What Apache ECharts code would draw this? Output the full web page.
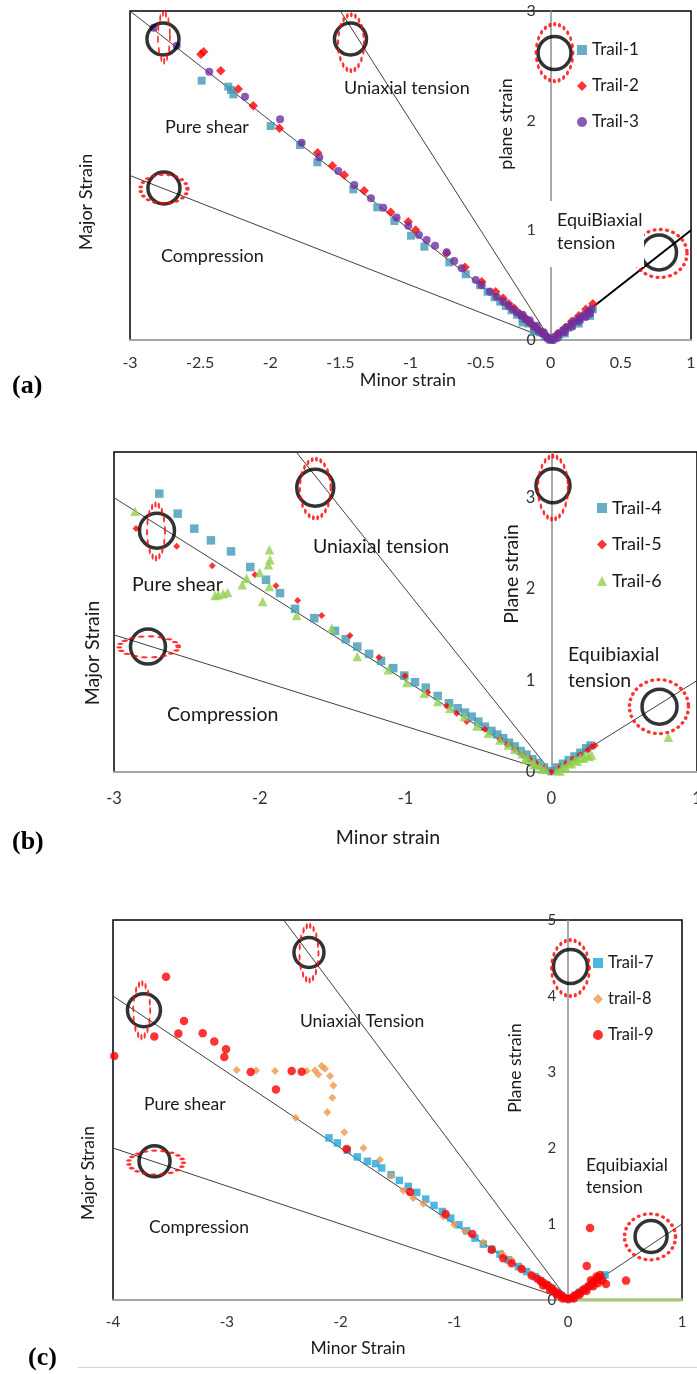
<!DOCTYPE html>
<html>
<head>
<meta charset="utf-8">
<script src="https://cdn.jsdelivr.net/npm/echarts/dist/echarts.min.js"></script>
<style>
  html, body { margin: 0; padding: 0; background: #fff; }
  #chart { width: 697px; height: 1374px; }
</style>
</head>
<body>
<div id="chart"></div>
<script>
// ---- panel (a) ----
const trail1 = [
  [-2.489, 2.365], [-2.299, 2.31], [-2.28, 2.28], [-2.263, 2.24], [-1.997, 1.951], [-1.788, 1.778],
  [-1.664, 1.62], [-1.408, 1.374], [-1.237, 1.21], [-1.115, 1.085], [-0.996, 0.951], [-0.901, 0.851],
  [-0.723, 0.708], [-0.606, 0.6], [-0.504, 0.5], [-0.45, 0.44], [-0.4, 0.39], [-0.36, 0.35],
  [-0.32, 0.31], [-0.28, 0.27], [-0.24, 0.23], [-0.2, 0.19], [-0.16, 0.15], [-0.12, 0.11],
  [-0.08, 0.07], [-0.04, 0.03], [0, 0], [0.03, 0.02], [0.06, 0.05], [0.09, 0.08], [0.12, 0.11],
  [0.15, 0.13], [0.18, 0.16], [0.21, 0.19], [0.24, 0.22], [0.27, 0.25], [0.3, 0.28],
  [-0.2, 0.16], [-0.12, 0.08], [0.1, 0.06], [0.2, 0.15], [0.28, 0.22]
];
const trail2 = [
  [-2.494, 2.605], [-2.475, 2.629], [-2.353, 2.456], [-2.228, 2.289], [-2.121, 2.136], [-1.935, 1.93],
  [-1.662, 1.708], [-1.557, 1.589], [-1.472, 1.505], [-1.33, 1.362], [-1.141, 1.164], [-1.016, 1.079],
  [-0.963, 1.003], [-0.742, 0.79], [-0.611, 0.663], [-0.492, 0.532], [-0.393, 0.44], [-0.34, 0.38],
  [-0.3, 0.33], [-0.26, 0.29], [-0.22, 0.24], [-0.18, 0.2], [-0.15, 0.16], [-0.12, 0.13],
  [-0.08, 0.09], [-0.04, 0.05], [0, 0.01], [0.05, 0.06], [0.1, 0.11], [0.15, 0.17], [0.2, 0.22],
  [0.25, 0.28], [0.3, 0.33]
];
const trail3 = [
  [-2.831, 2.848], [-2.667, 2.684], [-2.435, 2.447], [-2.18, 2.219], [-1.93, 2.012], [-1.776, 1.799],
  [-1.65, 1.666], [-1.515, 1.541], [-1.401, 1.413], [-1.282, 1.292], [-1.194, 1.207], [-1.099, 1.116],
  [-1.016, 1.042], [-0.94, 0.957], [-0.885, 0.912], [-0.825, 0.86], [-0.742, 0.8], [-0.688, 0.72],
  [-0.635, 0.654], [-0.535, 0.547], [-0.492, 0.5], [-0.433, 0.44], [-0.385, 0.395], [-0.338, 0.349],
  [-0.3, 0.31], [-0.27, 0.28], [-0.24, 0.25], [-0.21, 0.22], [-0.18, 0.19], [-0.15, 0.16],
  [-0.12, 0.12], [-0.09, 0.09], [-0.06, 0.06], [-0.03, 0.03], [0, 0.005], [0.03, 0.03], [0.06, 0.06],
  [0.09, 0.09], [0.12, 0.12], [0.15, 0.15], [0.18, 0.18], [0.21, 0.2], [0.24, 0.23], [0.27, 0.26],
  [0.29, 0.28], [-0.2, 0.23], [-0.15, 0.18], [-0.1, 0.13], [-0.05, 0.07], [-0.02, 0.01], [0.02, 0.0],
  [0.05, 0.02], [0.1, 0.07], [0.15, 0.12], [0.2, 0.17], [0.25, 0.21], [0.28, 0.24]
];

// ---- panel (b) ----
const trail4 = [
  [-2.689, 3.045], [-2.563, 2.826], [-2.449, 2.662], [-2.335, 2.534], [-2.197, 2.413], [-2.065, 2.242],
  [-1.957, 2.103], [-1.861, 1.957], [-1.758, 1.785], [-1.626, 1.683], [-1.484, 1.544], [-1.41, 1.453],
  [-1.331, 1.372], [-1.25, 1.292], [-1.168, 1.216], [-1.084, 1.136], [-1.008, 1.055], [-0.935, 0.982],
  [-0.861, 0.923], [-0.779, 0.832], [-0.702, 0.752], [-0.642, 0.697], [-0.592, 0.65], [-0.546, 0.606],
  [-0.501, 0.551], [-0.455, 0.496], [-0.41, 0.45], [-0.37, 0.41], [-0.33, 0.37], [-0.29, 0.32],
  [-0.25, 0.28], [-0.21, 0.23], [-0.17, 0.19], [-0.13, 0.14], [-0.09, 0.1], [-0.05, 0.05], [0, 0.01],
  [0.04, 0.05], [0.08, 0.09], [0.12, 0.13], [0.16, 0.17], [0.2, 0.21], [0.24, 0.26], [0.27, 0.29]
];
const trail5 = [
  [-2.849, 2.662], [-2.57, 2.468], [-2.326, 2.256], [-2.033, 2.158], [-1.889, 2.037], [-1.74, 1.876],
  [-1.575, 1.712], [-1.381, 1.493], [-1.182, 1.256], [-1.003, 1.051], [-0.848, 0.869], [-0.717, 0.723],
  [-0.649, 0.643], [-0.58, 0.551], [-0.455, 0.468], [-0.352, 0.358], [-0.3, 0.3], [-0.25, 0.25],
  [-0.2, 0.19], [-0.15, 0.14], [-0.1, 0.09], [-0.05, 0.04], [0, 0], [0.05, 0.04], [0.1, 0.09],
  [0.15, 0.14], [0.2, 0.19], [0.25, 0.24], [0.28, 0.28], [0.3, 0.29]
];
const trail6 = [
  [-2.856, 2.851], [-2.307, 1.93], [-2.284, 1.939], [-2.25, 1.95], [-2.22, 1.964], [-2.12, 2.048],
  [-2.09, 2.12], [-2.0, 2.183], [-1.98, 1.865], [-1.941, 2.267], [-1.93, 2.322], [-1.934, 2.432],
  [-1.934, 2.03], [-1.747, 1.712], [-1.506, 1.573], [-1.331, 1.263], [-1.118, 1.117], [-0.992, 0.978],
  [-0.871, 0.862], [-0.779, 0.77], [-0.695, 0.697], [-0.597, 0.606], [-0.511, 0.504], [-0.432, 0.424],
  [-0.352, 0.35], [-0.295, 0.296], [-0.25, 0.25], [-0.2, 0.2], [-0.16, 0.15], [-0.12, 0.11],
  [-0.08, 0.07], [-0.04, 0.03], [0, -0.01], [0.04, 0.02], [0.08, 0.06], [0.12, 0.1], [0.16, 0.13],
  [0.2, 0.16], [0.24, 0.18], [0.277, 0.186], [0.803, 0.38],
  [-0.18, 0.14], [-0.12, 0.08], [-0.06, 0.03], [-0.02, -0.02], [0.02, -0.02], [0.06, 0.01],
  [0.1, 0.05], [0.14, 0.09], [0.18, 0.12], [0.22, 0.15], [0.26, 0.17]
];

// ---- panel (c) ----
const trail7 = [
  [-2.102, 2.133], [-2.029, 2.067], [-1.941, 1.97], [-1.853, 1.882], [-1.765, 1.825], [-1.692, 1.794],
  [-1.639, 1.737], [-1.557, 1.649], [-1.484, 1.574], [-1.405, 1.495], [-1.331, 1.416], [-1.252, 1.328],
  [-1.179, 1.244], [-1.106, 1.165], [-1.032, 1.078], [-0.96, 0.989], [-0.892, 0.91], [-0.819, 0.814],
  [-0.746, 0.735], [-0.672, 0.669], [-0.599, 0.603], [-0.526, 0.528], [-0.438, 0.44], [-0.365, 0.374],
  [-0.292, 0.308], [-0.24, 0.25], [-0.19, 0.2], [-0.14, 0.15], [-0.1, 0.1], [-0.06, 0.06],
  [-0.02, 0.02], [0.02, 0.02], [0.06, 0.06], [0.1, 0.1], [0.14, 0.14], [0.18, 0.18], [0.22, 0.22],
  [0.26, 0.26], [0.3, 0.3], [0.323, 0.33]
];
const trail8 = [
  [-2.913, 3.025], [-2.743, 3.021], [-2.576, 3.012], [-2.395, 2.397], [-2.298, 3.012], [-2.225, 3.021],
  [-2.196, 2.968], [-2.166, 3.078], [-2.137, 3.044], [-2.093, 2.946], [-2.064, 2.823], [-2.073, 2.66],
  [-2.117, 2.471], [-1.967, 2.207], [-1.8, 2.001], [-1.654, 1.847], [-1.557, 1.636], [-1.449, 1.438],
  [-1.361, 1.341], [-1.273, 1.266], [-1.098, 1.099], [-1.001, 0.989], [-0.907, 0.901], [-0.746, 0.756],
  [-0.584, 0.616], [-0.497, 0.528], [-0.409, 0.418], [-0.33, 0.34], [-0.26, 0.27], [-0.2, 0.2],
  [-0.14, 0.14], [-0.08, 0.08], [-0.03, 0.03]
];
const trail9 = [
  [-3.989, 3.21], [-3.534, 4.252], [-3.637, 3.466], [-3.426, 3.505], [-3.376, 3.672], [-3.212, 3.509],
  [-3.11, 3.4], [-3.007, 3.298], [-3.022, 3.197], [-2.79, 2.999], [-2.568, 2.77], [-2.43, 3.012],
  [-2.342, 3.004], [-1.947, 1.988], [-1.39, 1.421], [-1.077, 1.131], [-0.843, 0.867], [-0.672, 0.66],
  [-0.57, 0.55], [-0.497, 0.484], [-0.409, 0.409], [-0.321, 0.321], [-0.27, 0.28], [-0.24, 0.25],
  [-0.21, 0.22], [-0.18, 0.19], [-0.15, 0.16], [-0.12, 0.12], [-0.09, 0.09], [-0.06, 0.06],
  [-0.03, 0.03], [0, 0.01], [0.03, 0.03], [0.06, 0.06], [0.09, 0.09], [0.12, 0.12], [0.15, 0.15],
  [0.18, 0.18], [0.2, 0.2], [0.22, 0.24], [0.25, 0.27], [0.27, 0.3], [0.28, 0.33], [0.25, 0.31],
  [0.2, 0.26], [0.163, 0.449], [0.192, 0.946], [0.332, 0.211], [0.508, 0.255],
  [-0.22, 0.19], [-0.16, 0.13], [-0.1, 0.07], [-0.05, 0.02], [0.05, 0.02], [0.1, 0.07], [0.16, 0.12],
  [0.22, 0.18], [0.26, 0.22], [0.3, 0.26]
];

// strain path guide lines (end points)
const pureShearA = [[-3, 3], [0, 0]];
const compressionA = [[-3, 1.5], [0, 0]];
const uniaxialA = [[-1.5, 3], [0, 0]];
const equiA = [[0, 0], [1, 1]];
const pureShearB = [[-3, 3], [0, 0]];
const compressionB = [[-3, 1.5], [0, 0]];
const uniaxialB = [[-1.75, 3.5], [0, 0]];
const equiB = [[0, 0], [1, 1]];
const pureShearC = [[-4, 4], [0, 0]];
const compressionC = [[-4, 2], [0, 0]];
const uniaxialC = [[-2.5, 5], [0, 0]];
const equiC = [[0, 0], [1, 1]];
const zeroC = [[0, 0], [1, 0]];

// marked circles (black) and dotted ellipses (red) in data coords
const circlesA = [[-2.765, 2.745], [-1.428, 2.745], [-2.758, 1.386], [0.027, 2.617], [0.772, 0.798]];
const ringSizeA = [32, 32, 32, 33, 35];
const ovalsA = [[-2.758, 2.763], [-1.424, 2.711], [-2.758, 1.377], [0.027, 2.62], [0.779, 0.789]];
const ovalSizeA = [[12, 48], [26, 56], [47, 29], [37, 57], [54, 48]];
const circlesB = [[-2.705, 2.64], [-2.767, 1.372], [-1.619, 3.11], [0.012, 3.13], [0.743, 0.715]];
const ringSizeB = [35, 35, 37, 34, 35];
const ovalsB = [[-2.712, 2.632], [-2.762, 1.369], [-1.619, 3.1], [0.012, 3.11], [0.739, 0.715]];
const ovalSizeB = [[18, 54], [59, 21], [31, 59], [30, 63], [59, 54]];
const circlesC = [[-3.728, 3.813], [-3.635, 1.825], [-2.278, 4.574], [0.02, 4.387], [0.728, 0.835]];
const ringSizeC = [33, 31, 30, 34, 32];
const ovalsC = [[-3.748, 3.813], [-3.622, 1.807], [-2.278, 4.565], [0.02, 4.367], [0.719, 0.831]];
const ovalSizeC = [[17, 54], [55, 24], [19, 55], [38, 56], [51, 46]];

const FONT = 'Lato, "Open Sans", sans-serif';
const SERIF = '"Liberation Serif", "DejaVu Serif", serif';

const chart = echarts.init(document.getElementById('chart'));

const grids = [
  { left: 130, top: 11, width: 561, height: 329 },
  { left: 114, top: 452, width: 583, height: 320 },
  { left: 113, top: 920, width: 569, height: 380 }
];

const xAxes = [
  { min: -3, max: 1, interval: 0.5, size: 16, margin: 15 },
  { min: -3, max: 1, interval: 1, size: 16.5, margin: 18 },
  { min: -4, max: 1, interval: 1, size: 15, margin: 15 }
];
const yAxes = [
  { max: 3, size: 16, margin: 15, hideMax: false },
  { max: 3.5, size: 16.5, margin: 16, hideMax: true },
  { max: 5, size: 15, margin: 12, hideMax: false }
];

const guide = (gi, pts, width, color) => ({
  type: 'line', xAxisIndex: gi, yAxisIndex: gi, data: pts, symbol: 'none', silent: true,
  lineStyle: { color: color || '#404040', width: width || 1 }, z: 1
});
const dots = (gi, name, pts, symbol, size, color) => ({
  name: name, type: 'scatter', xAxisIndex: gi, yAxisIndex: gi, data: pts, symbol: symbol,
  symbolSize: size, itemStyle: { color: color }, silent: true, z: 3
});
const rings = (gi, pts, sizes) => ({
  type: 'scatter', xAxisIndex: gi, yAxisIndex: gi, data: pts, symbol: 'circle',
  symbolSize: (v, p) => sizes[p.dataIndex], silent: true, z: 4,
  itemStyle: { color: 'rgba(0,0,0,0)', borderColor: '#000', borderWidth: 3.5 }
});
const ovals = (gi, pts, sizes) => ({
  type: 'scatter', xAxisIndex: gi, yAxisIndex: gi, data: pts, symbol: 'circle',
  symbolSize: (v, p) => sizes[p.dataIndex], silent: true, z: 5,
  itemStyle: {
    color: 'rgba(0,0,0,0)', borderColor: '#ff0000', borderWidth: 3.5,
    borderType: [0.5, 5.5], borderCap: 'round'
  }
});

const txt = (text, x, y, size, rot, align) => ({
  type: 'text', x: x, y: y, rotation: rot ? Math.PI / 2 : 0, z: 100, silent: true,
  style: {
    text: text, fill: '#1a1a1a', font: size + 'px ' + FONT,
    textAlign: align || 'left', align: align || 'left',
    textVerticalAlign: 'middle', verticalAlign: 'middle'
  }
});
const letter = (text, x, y) => ({
  type: 'text', x: x, y: y, z: 100, silent: true,
  style: {
    text: text, fill: '#000', font: 'bold 26px ' + SERIF,
    textAlign: 'left', align: 'left', textVerticalAlign: 'middle', verticalAlign: 'middle'
  }
});

const legendBox = (names, icons, left, top, size, gap) => ({
  data: names.map((n, i) => ({ name: n, icon: icons[i] })),
  orient: 'vertical', left: left, top: top, itemWidth: 10, itemHeight: 10,
  itemGap: gap, itemTextGap: 6, selectedMode: false,
  textStyle: { fontSize: size, lineHeight: 18, color: '#1a1a1a', fontFamily: FONT }
});

const option = {
  backgroundColor: '#fff',
  animation: false,
  grid: grids.map(g => Object.assign({
    show: true, borderColor: '#000', borderWidth: 1.5, containLabel: false, outerBoundsMode: 'none'
  }, g)),
  xAxis: xAxes.map((a, i) => ({
    type: 'value', gridIndex: i, min: a.min, max: a.max, interval: a.interval,
    axisLine: { show: true, onZero: false, lineStyle: { color: '#a6a6a6', width: 2 } },
    axisTick: { show: false }, splitLine: { show: false },
    axisLabel: { fontSize: a.size, color: '#333', margin: a.margin, fontFamily: FONT }
  })),
  // y axis sits on minor strain = 0: shift it in from the left edge
  yAxis: yAxes.map((a, i) => ({
    type: 'value', gridIndex: i, min: 0, max: a.max, interval: 1, position: 'left',
    offset: -grids[i].width * (0 - xAxes[i].min) / (xAxes[i].max - xAxes[i].min),
    axisLine: { show: true, onZero: false, lineStyle: { color: '#8c8c8c', width: 1.5 } },
    axisTick: { show: false }, splitLine: { show: false },
    axisLabel: { fontSize: a.size, color: '#333', margin: a.margin, fontFamily: FONT, showMaxLabel: !a.hideMax }
  })),
  legend: [
    legendBox(['Trail-1', 'Trail-2', 'Trail-3'], ['rect', 'diamond', 'circle'], 572, 36, 17, 18),
    legendBox(['Trail-4', 'Trail-5', 'Trail-6'], ['rect', 'diamond', 'triangle'], 592, 494, 18, 18.5),
    legendBox(['Trail-7', 'trail-8', 'Trail-9'], ['rect', 'diamond', 'circle'], 588, 949, 16.5, 18)
  ],
  graphic: [
    // panel (a)
    { type: 'rect', shape: { x: 548, y: 201, width: 96, height: 66 }, style: { fill: '#fff' }, z: 50, silent: true },
    txt('Pure shear', 165, 127, 18),
    txt('Compression', 161, 256, 18),
    txt('Uniaxial tension', 344, 88, 18),
    txt('EquiBiaxial', 557, 220, 18),
    txt('tension', 557, 243, 18),
    txt('plane strain', 506, 124, 18, true, 'center'),
    txt('Major Strain', 86, 202, 18, true, 'center'),
    txt('Minor strain', 408, 380, 18, false, 'center'),
    letter('(a)', 12, 386),
    // panel (b)
    txt('Pure shear', 132, 585, 19.5),
    txt('Compression', 167, 715, 19.5),
    txt('Uniaxial tension', 313, 547, 19.5),
    txt('Equibiaxial', 568, 655, 19.5),
    txt('tension', 568, 681, 19.5),
    txt('Plane strain', 512, 574, 19.5, true, 'center'),
    txt('Major Strain', 93, 653, 19.5, true, 'center'),
    txt('Minor strain', 388, 838, 19.5, false, 'center'),
    letter('(b)', 12, 842),
    // panel (c)
    txt('Pure shear', 144, 1104, 17.5),
    txt('Compression', 149, 1227, 17.5),
    txt('Uniaxial Tension', 300, 1021, 17.5),
    txt('Equibiaxial', 586, 1165, 17.5),
    txt('tension', 586, 1187, 17.5),
    txt('Plane strain', 515, 1068, 17.5, true, 'center'),
    txt('Major Strain', 88, 1173, 17.5, true, 'center'),
    txt('Minor Strain', 358, 1348, 17.5, false, 'center'),
    letter('(c)', 28, 1358),
    { type: 'line', shape: { x1: 78, y1: 1367.5, x2: 697, y2: 1367.5 }, style: { stroke: '#d4d4d4', lineWidth: 1 }, silent: true }
  ],
  series: [
    guide(0, pureShearA), guide(0, compressionA), guide(0, uniaxialA), guide(0, equiA, 2, '#000'),
    dots(0, 'Trail-1', trail1, 'rect', 8, '#4198b5'),
    dots(0, 'Trail-2', trail2, 'diamond', 9.5, '#ff0000'),
    dots(0, 'Trail-3', trail3, 'circle', 8, '#7030a0'),
    rings(0, circlesA, ringSizeA), ovals(0, ovalsA, ovalSizeA),

    guide(1, pureShearB), guide(1, compressionB), guide(1, uniaxialB), guide(1, equiB),
    dots(1, 'Trail-4', trail4, 'rect', 8.5, '#4198b5'),
    dots(1, 'Trail-5', trail5, 'diamond', 7, '#ff0000'),
    dots(1, 'Trail-6', trail6, 'triangle', 9.5, '#92d050'),
    rings(1, circlesB, ringSizeB), ovals(1, ovalsB, ovalSizeB),

    guide(2, pureShearC), guide(2, compressionC), guide(2, uniaxialC), guide(2, equiC),
    guide(2, zeroC, 3.5, '#a9c47f'),
    dots(2, 'Trail-7', trail7, 'rect', 7.5, '#22a5da'),
    dots(2, 'trail-8', trail8, 'diamond', 8, '#f0964a'),
    dots(2, 'Trail-9', trail9, 'circle', 8.5, '#ff0000'),
    rings(2, circlesC, ringSizeC), ovals(2, ovalsC, ovalSizeC)
  ]
};

chart.setOption(option);
</script>
</body>
</html>
